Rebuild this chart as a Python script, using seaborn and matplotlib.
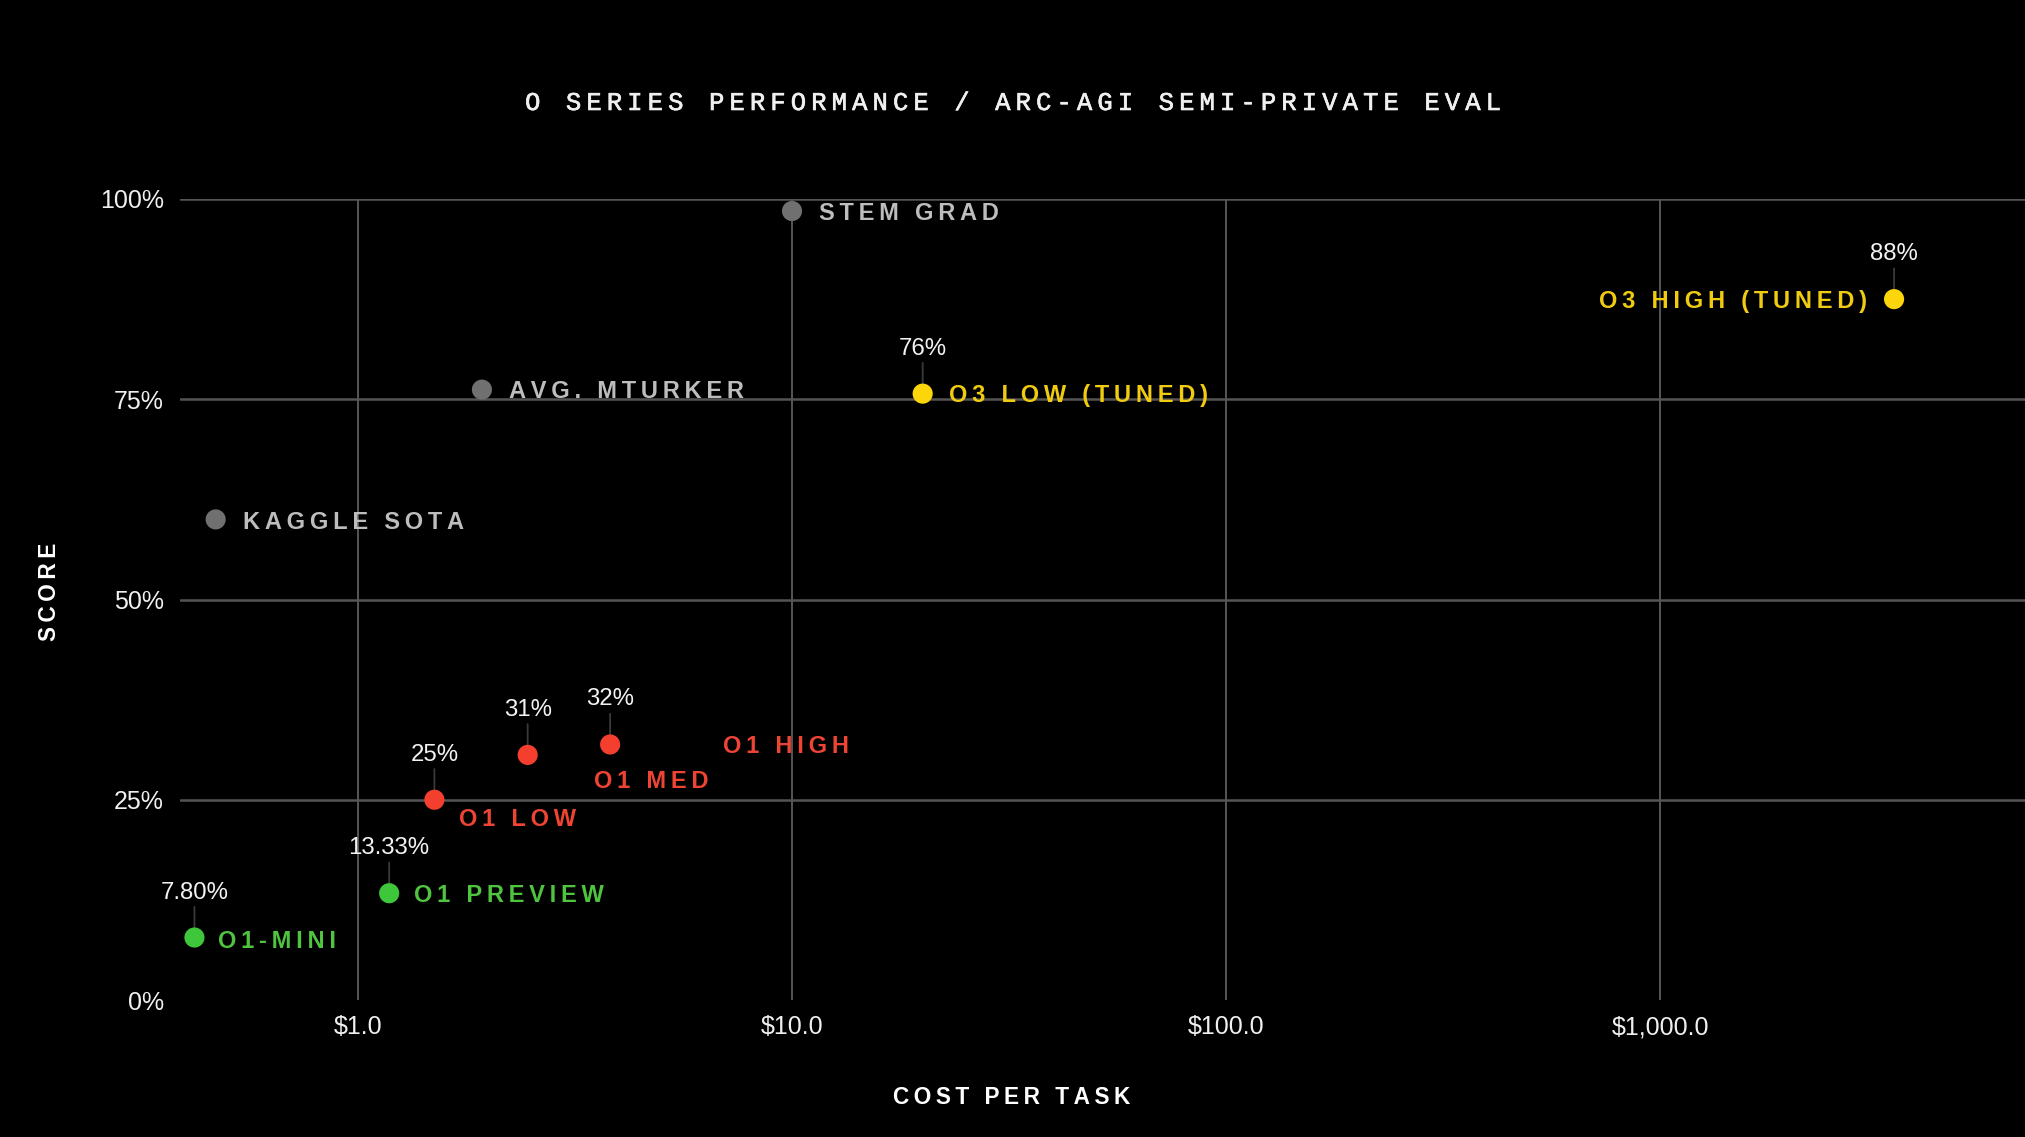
import matplotlib
matplotlib.use("Agg")
import numpy as np
import pandas as pd
import matplotlib.pyplot as plt
import matplotlib.patheffects as pe
import seaborn as sns
from matplotlib.ticker import FixedLocator, FixedFormatter, NullLocator

# ---------------- data ----------------
models = ["O1-MINI", "O1 PREVIEW", "O1 LOW", "O1 MED", "O1 HIGH",
          "O3 LOW (TUNED)", "O3 HIGH (TUNED)",
          "KAGGLE SOTA", "AVG. MTURKER", "STEM GRAD"]
cost = [0.42, 1.18, 1.50, 2.46, 3.81, 20.0, 3460.0, 0.47, 1.93, 10.0]
score = [7.8, 13.33, 25.0, 30.6, 31.9, 75.7, 87.5, 60.0, 76.2, 98.5]
group = ["o1-green", "o1-green", "o1-red", "o1-red", "o1-red",
         "o3", "o3", "human", "human", "human"]
value_labels = ["7.80%", "13.33%", "25%", "31%", "32%", "76%", "88%", "", "", ""]

x_ticks = [1, 10, 100, 1000]
x_ticklabels = ["$1.0", "$10.0", "$100.0", "$1,000.0"]
y_ticks = [0, 25, 50, 75, 100]
y_ticklabels = ["0%", "25%", "50%", "75%", "100%"]

title = "O SERIES PERFORMANCE / ARC-AGI SEMI-PRIVATE EVAL"
x_title = "COST PER TASK"
y_title = "SCORE"

# ---------------- style ----------------
point_colors = {"o1-green": "#3ec73a", "o1-red": "#f43f2f",
                "o3": "#fcd60a", "human": "#707070"}
text_colors = {"o1-green": "#4ec43f", "o1-red": "#ee4434",
               "o3": "#f0cb10", "human": "#bdbdbd"}

# label placement: (dx px, vertical centre offset px below point, ha)
place = {
    "O1-MINI": (24, 2, "left"),
    "O1 PREVIEW": (25, 0, "left"),
    "O1 LOW": (25, 17.5, "left"),
    "O1 MED": (66, 25, "left"),
    "O1 HIGH": (113, 0, "left"),
    "O3 LOW (TUNED)": (26, 0, "left"),
    "O3 HIGH (TUNED)": (-27, 0, "right"),
    "KAGGLE SOTA": (27, 1, "left"),
    "AVG. MTURKER": (27, 0, "left"),
    "STEM GRAD": (27, 0.5, "left"),
}

sns.set_theme(style="dark", rc={
    "figure.facecolor": "black", "axes.facecolor": "black",
    "savefig.facecolor": "black", "axes.edgecolor": "black",
    "text.color": "white", "xtick.color": "white", "ytick.color": "white",
})
plt.rcParams["font.family"] = ["Liberation Sans", "DejaVu Sans"]

SANS = ["Liberation Sans", "DejaVu Sans"]
MONO = ["Liberation Mono", "DejaVu Sans"]
PX = 0.72  # points per pixel at dpi 100


def track(s):
    return "\u2009".join(s)


df = pd.DataFrame({"model": models, "cost": cost, "score": score, "group": group})

fig = plt.figure(figsize=(20.25, 11.37), dpi=100)
ax = fig.add_axes([180 / 2025, 1 - 1000 / 1137, 1845 / 2025, 801 / 1137])

ax.set_xscale("log")
ax.set_xlim(0.389, 6930)
ax.set_ylim(0, 100)

# grid
ax.xaxis.set_major_locator(FixedLocator(x_ticks))
ax.xaxis.set_major_formatter(FixedFormatter(x_ticklabels))
ax.xaxis.set_minor_locator(NullLocator())
ax.yaxis.set_major_locator(FixedLocator(y_ticks))
ax.yaxis.set_major_formatter(FixedFormatter(y_ticklabels))
ax.yaxis.set_minor_locator(NullLocator())
ax.grid(True, axis="y", color="#555555", lw=1.8, zorder=0)
ax.grid(True, axis="x", color="#5c5c5c", lw=1.3, zorder=0)
ax.set_axisbelow(True)
ax.get_ygridlines()[0].set_visible(False)
for sp in ax.spines.values():
    sp.set_visible(False)
ax.tick_params(axis="both", length=0, labelsize=18, colors="#f0f0f0")
ax.tick_params(axis="y", pad=11.5)
ax.tick_params(axis="x", pad=11)
for lab in ax.get_xticklabels() + ax.get_yticklabels():
    lab.set_family(SANS)

sns.scatterplot(data=df, x="cost", y="score", hue="group", palette=point_colors,
                s=210, linewidth=0, legend=False, ax=ax, zorder=5)

# value labels with leader lines
for m, c, v, vl in zip(models, cost, score, value_labels):
    if not vl:
        continue
    ax.annotate(vl, xy=(c, v), xytext=(0, 39 * PX), textcoords="offset points",
                ha="center", va="baseline", fontsize=17.3, color="#f2f2f2",
                family=SANS, zorder=4,
                arrowprops=dict(arrowstyle="-", color="#3a3a3a", lw=1.3,
                                shrinkA=0, shrinkB=0))

# name labels
for m, c, v, g in zip(models, cost, score, group):
    dx, dy, ha = place[m]
    ax.annotate(track(m), xy=(c, v), xytext=(dx * PX, -(dy + 8.5) * PX),
                textcoords="offset points", ha=ha, va="baseline",
                fontsize=17, fontweight="bold", color=text_colors[g],
                family=SANS, zorder=6)

# axis titles
ax.set_xlabel(track(x_title), fontsize=16.3, fontweight="bold", color="white",
              family=SANS, va="center")
ax.xaxis.set_label_coords((1012 - 180) / 1845, -(1098 - 1000) / 801)
ax.set_ylabel(track(y_title), fontsize=16.3, fontweight="bold", color="white",
              family=SANS, va="center", ha="center")
ax.yaxis.set_label_coords((50 - 180) / 1845, (1000 - 592) / 801)

fig.text(0.4995, 1 - 110 / 1137, track(title), ha="center", va="baseline",
         fontsize=18.4, color="#f0f0f0", family=MONO,
         path_effects=[pe.withStroke(linewidth=0.45, foreground="#f0f0f0")])

fig.savefig("out.png", dpi=100, facecolor="black")
